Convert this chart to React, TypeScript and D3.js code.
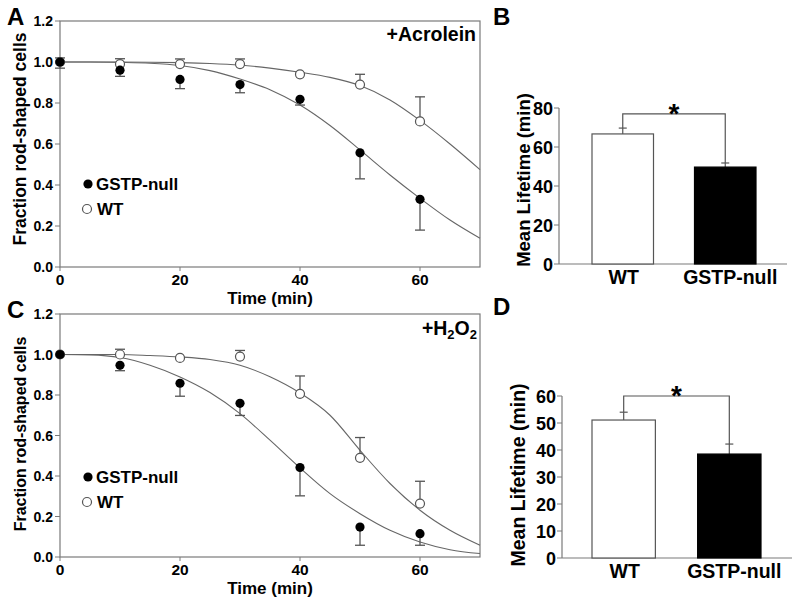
import React from 'react';
import * as d3 from 'd3';

// time points (min) and sampled fit curves
const times = [0, 10, 20, 30, 40, 50, 60];
const fitTimes = [0, 5, 10, 15, 20, 25, 30, 35, 40, 45, 50, 55, 60, 65, 70];
const timeTicks = [0, 20, 40, 60];
const fracTicks = [0, 0.2, 0.4, 0.6, 0.8, 1.0, 1.2];

// +Acrolein
const acrNullMean = [1.0, 0.96, 0.915, 0.89, 0.818, 0.557, 0.33];
const acrNullErr = [0.03, 0.03, 0.045, 0.04, 0.028, 0.127, 0.15];
const acrWtMean = [1.0, 0.99, 0.99, 0.99, 0.94, 0.89, 0.71];
const acrWtErr = [0.02, 0.026, 0.025, 0.025, 0.005, 0.05, 0.12];
const acrNullFit = [1.0, 1.0, 0.998, 0.994, 0.983, 0.958, 0.917, 0.865, 0.79, 0.69, 0.571, 0.449, 0.335, 0.229, 0.14];
const acrWtFit = [1.0, 1.0, 1.0, 0.999, 0.997, 0.993, 0.985, 0.97, 0.95, 0.925, 0.885, 0.815, 0.715, 0.6, 0.475];

// +H2O2
const h2NullMean = [1.0, 0.947, 0.858, 0.759, 0.442, 0.148, 0.115];
const h2NullErr = [0.0, 0.027, 0.064, 0.06, 0.14, 0.09, 0.057];
const h2WtMean = [1.0, 1.0, 0.983, 0.99, 0.806, 0.49, 0.264];
const h2WtErr = [0.0, 0.026, 0.0, 0.03, 0.088, 0.1, 0.11];
const h2NullFit = [1.0, 0.998, 0.985, 0.947, 0.889, 0.812, 0.708, 0.577, 0.44, 0.313, 0.214, 0.132, 0.074, 0.036, 0.017];
const h2WtFit = [1.0, 1.0, 1.0, 0.995, 0.988, 0.975, 0.947, 0.89, 0.81, 0.7, 0.527, 0.363, 0.231, 0.132, 0.058];

// mean lifetime bars
const groups = ['WT', 'GSTP-null'];
const acrLifetime = [66.7, 49.7];
const acrLifetimeErr = [3.0, 2.1];
const acrTicks = [0, 20, 40, 60, 80];
const h2Lifetime = [51.1, 38.5];
const h2LifetimeErr = [2.9, 3.7];
const h2Ticks = [0, 10, 20, 30, 40, 50, 60];

const FONT = '"Liberation Sans", Arial, sans-serif';
const AXIS = '#7a7a7a';

function CurvePanel(props: any) {
  const { top, bottom, letter, tag, nullMean, nullErr, wtMean, wtErr, nullFit, wtFit, legendY, labelY, labelSize } = props;
  const x = d3.scaleLinear().domain([0, 70]).range([60, 480]);
  const y = d3.scaleLinear().domain([0, 1.2]).range([bottom, top]);
  const line = d3.line<number>()
    .x((d, i) => x(fitTimes[i]))
    .y(d => y(d))
    .curve(d3.curveMonotoneX);

  return (
    <g fontFamily={FONT} fontWeight="bold">
      <text x={7} y={top + 4} fontSize={24}>{letter}</text>
      <rect x={x(0)} y={y(1.2)} width={x(70) - x(0)} height={y(0) - y(1.2)} fill="none" stroke={AXIS} strokeWidth={1.2} />
      {fracTicks.map(t => (
        <g key={t}>
          <line x1={x(0) - 5} x2={x(0)} y1={y(t)} y2={y(t)} stroke={AXIS} />
          <text x={x(0) - 7} y={y(t) + 5} fontSize={14} textAnchor="end">{d3.format('.1f')(t)}</text>
        </g>
      ))}
      {timeTicks.map(t => (
        <g key={t}>
          <line x1={x(t)} x2={x(t)} y1={y(0)} y2={y(0) + 4} stroke={AXIS} />
          <text x={x(t)} y={y(0) + 18} fontSize={15.5} textAnchor="middle">{t}</text>
        </g>
      ))}
      <text x={x(35)} y={y(0) + 37} fontSize={17} textAnchor="middle">Time (min)</text>
      <text transform={`translate(26,${labelY}) rotate(-90)`} fontSize={labelSize} textAnchor="middle">Fraction rod-shaped cells</text>
      {tag}
      <path d={line(wtFit) || ''} fill="none" stroke="#666" strokeWidth={1.1} />
      <path d={line(nullFit) || ''} fill="none" stroke="#666" strokeWidth={1.1} />
      {times.map((t, i) => (
        <g key={'w' + t} stroke="#555" strokeWidth={1.3}>
          <line x1={x(t)} x2={x(t)} y1={y(wtMean[i])} y2={y(wtMean[i] + wtErr[i])} />
          <line x1={x(t) - 5} x2={x(t) + 5} y1={y(wtMean[i] + wtErr[i])} y2={y(wtMean[i] + wtErr[i])} />
        </g>
      ))}
      {times.map((t, i) => (
        <g key={'n' + t} stroke="#555" strokeWidth={1.3}>
          <line x1={x(t)} x2={x(t)} y1={y(nullMean[i])} y2={y(nullMean[i] - nullErr[i])} />
          <line x1={x(t) - 5} x2={x(t) + 5} y1={y(nullMean[i] - nullErr[i])} y2={y(nullMean[i] - nullErr[i])} />
        </g>
      ))}
      {times.map((t, i) => (
        <circle key={'wc' + t} cx={x(t)} cy={y(wtMean[i])} r={4.5} fill="#fff" stroke="#555" strokeWidth={1.2} />
      ))}
      {times.map((t, i) => (
        <circle key={'nc' + t} cx={x(t)} cy={y(nullMean[i])} r={4.6} fill="#000" />
      ))}
      <circle cx={88} cy={legendY - 6} r={4.6} fill="#000" />
      <text x={96} y={legendY} fontSize={17}>GSTP-null</text>
      <circle cx={87} cy={legendY + 19} r={4.5} fill="#fff" stroke="#555" strokeWidth={1.2} />
      <text x={97} y={legendY + 25} fontSize={17}>WT</text>
    </g>
  );
}

function BarPanel(props: any) {
  const { letter, letterY, axisX, axisRight, top, bottom, maxV, ticks, values, errs, bandLeft, bandRight, sigLevel, labelX, labelY, labelSize } = props;
  const y = d3.scaleLinear().domain([0, maxV]).range([bottom, top]);
  const xb = d3.scaleBand().domain(groups).range([bandLeft, bandRight]).paddingInner(0.4).paddingOuter(0);
  const cx = (g: string) => (xb(g) || 0) + xb.bandwidth() / 2;
  const leftTop = y(values[0] + errs[0]);
  const rightTop = y(values[1] + errs[1]);

  return (
    <g fontFamily={FONT} fontWeight="bold">
      <text x={493} y={letterY} fontSize={24}>{letter}</text>
      <line x1={axisX} x2={axisX} y1={top} y2={bottom} stroke={AXIS} strokeWidth={1.2} />
      <line x1={axisX} x2={axisRight} y1={bottom} y2={bottom} stroke={AXIS} strokeWidth={1.2} />
      {ticks.map((t: number) => (
        <g key={t}>
          <line x1={axisX - 5} x2={axisX} y1={y(t)} y2={y(t)} stroke={AXIS} />
          <text x={axisX - 6} y={y(t) + 6.5} fontSize={18} textAnchor="end">{t}</text>
        </g>
      ))}
      <text transform={`translate(${labelX},${labelY}) rotate(-90)`} fontSize={labelSize} textAnchor="middle">Mean Lifetime (min)</text>
      {groups.map((g, i) => (
        <g key={g}>
          <line x1={cx(g)} x2={cx(g)} y1={y(values[i])} y2={y(values[i] + errs[i])} stroke="#555" strokeWidth={1.2} />
          <line x1={cx(g) - 4} x2={cx(g) + 4} y1={y(values[i] + errs[i])} y2={y(values[i] + errs[i])} stroke="#555" strokeWidth={1.2} />
          <rect x={xb(g)} y={y(values[i])} width={xb.bandwidth()} height={bottom - y(values[i])}
            fill={i === 0 ? '#fff' : '#000'} stroke={i === 0 ? '#555' : '#000'} strokeWidth={1.2} />
          <text x={cx(g) + (i === 0 ? 1 : 5)} y={bottom + 20} fontSize={19.5} textAnchor="middle">{g}</text>
        </g>
      ))}
      <path d={`M${cx(groups[0])},${leftTop}V${y(sigLevel)}H${cx(groups[1])}V${rightTop}`} fill="none" stroke="#555" strokeWidth={1.2} />
      <text x={(cx(groups[0]) + cx(groups[1])) / 2} y={y(sigLevel) + 9} fontSize={28} textAnchor="middle">*</text>
    </g>
  );
}

export default function App() {
  return (
    <svg width={800} height={605} style={{ position: 'absolute', left: 0, top: 0, background: '#fff' }}>
      <CurvePanel top={21} bottom={267} letter="A" legendY={190} labelY={139} labelSize={17.5}
        nullMean={acrNullMean} nullErr={acrNullErr} wtMean={acrWtMean} wtErr={acrWtErr}
        nullFit={acrNullFit} wtFit={acrWtFit}
        tag={<text x={476} y={41} fontSize={19.5} textAnchor="end">+Acrolein</text>} />
      <CurvePanel top={314} bottom={557} letter="C" legendY={483} labelY={434} labelSize={16}
        nullMean={h2NullMean} nullErr={h2NullErr} wtMean={h2WtMean} wtErr={h2WtErr}
        nullFit={h2NullFit} wtFit={h2WtFit}
        tag={<text x={477} y={335} fontSize={19.5} textAnchor="end">+H<tspan fontSize={13} dy={4}>2</tspan><tspan dy={-4}>O</tspan><tspan fontSize={13} dy={4}>2</tspan></text>} />
      <BarPanel letter="B" letterY={25} axisX={559} axisRight={787} top={108} bottom={264} maxV={80}
        ticks={acrTicks} values={acrLifetime} errs={acrLifetimeErr} bandLeft={592} bandRight={756}
        sigLevel={77} labelX={530} labelY={180} labelSize={18.5} />
      <BarPanel letter="D" letterY={315} axisX={562} axisRight={792} top={396} bottom={558} maxV={60}
        ticks={h2Ticks} values={h2Lifetime} errs={h2LifetimeErr} bandLeft={592} bandRight={761}
        sigLevel={60} labelX={525} labelY={475} labelSize={19.5} />
    </svg>
  );
}
